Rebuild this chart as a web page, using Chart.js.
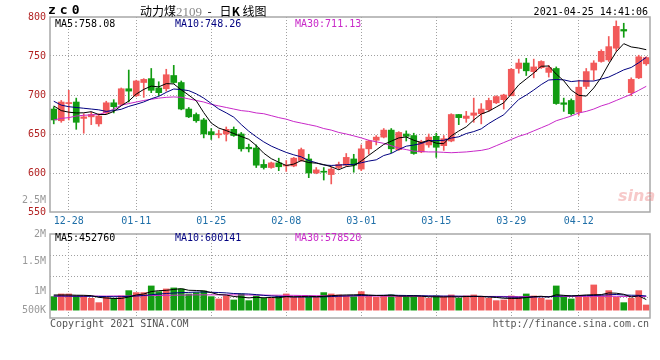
<!DOCTYPE html>
<html>
<head>
<meta charset="utf-8">
<title>动力煤2109 日K线图</title>
<script src="https://cdn.jsdelivr.net/npm/chart.js@4.4.1/dist/chart.umd.min.js"></script>
<style>
  body { margin: 0; background: #fff; }
  #wrap { position: relative; width: 660px; height: 360px; overflow: hidden; font-family: "DejaVu Sans Mono", monospace; font-size: 10px; color: #000; }
  canvas { position: absolute; left: 0; }
  .t { position: absolute; white-space: nowrap; line-height: 12px; }
</style>
</head>
<body>
<div id="wrap">
  <canvas id="price" width="660" height="228" style="top:0"></canvas>
  <canvas id="vol" width="660" height="94" style="top:228px"></canvas>

  <div class="t" style="left:48px;top:4px;font-weight:bold;font-size:13px;letter-spacing:4px">zc0</div>
  <div class="t" style="left:140px;top:5px;font-family:'Noto Sans CJK SC';font-size:12px">动力煤<span style="color:#888;font-family:'Liberation Serif';font-size:13px">2109</span>&nbsp; - &nbsp;&nbsp;日<b>K</b> 线图</div>
  <div class="t" style="right:12px;top:6px">2021-04-25 14:41:06</div>

  <div class="t" id="pma5" style="left:55px;top:18px;color:#000"></div>
  <div class="t" id="pma10" style="left:175px;top:18px;color:#000080"></div>
  <div class="t" id="pma30" style="left:295px;top:18px;color:#c828c8"></div>

  <div class="t" id="vma5" style="left:55px;top:232px;color:#000"></div>
  <div class="t" id="vma10" style="left:175px;top:232px;color:#000080"></div>
  <div class="t" id="vma30" style="left:295px;top:232px;color:#c828c8"></div>

  <div class="t" style="left:618px;top:190px;font-family:'DejaVu Sans';font-style:italic;font-weight:bold;font-size:16px;color:rgba(235,120,120,0.4)">sina</div>

  <div class="t" style="left:50px;top:318px;color:#555">Copyright 2021 SINA.COM</div>
  <div class="t" style="right:11px;top:318px;color:#555">http://finance.sina.com.cn</div>
</div>

<script>
const dates = [
  "12-24", "12-25", "12-28", "12-29", "12-30", "12-31", "01-04", "01-05", "01-06", "01-07",
  "01-08", "01-11", "01-12", "01-13", "01-14", "01-15", "01-18", "01-19", "01-20", "01-21",
  "01-22", "01-25", "01-26", "01-27", "01-28", "01-29", "02-01", "02-02", "02-03", "02-04",
  "02-05", "02-08", "02-09", "02-10", "02-18", "02-19", "02-22", "02-23", "02-24", "02-25",
  "02-26", "03-01", "03-02", "03-03", "03-04", "03-05", "03-08", "03-09", "03-10", "03-11",
  "03-12", "03-15", "03-16", "03-17", "03-18", "03-19", "03-22", "03-23", "03-24", "03-25",
  "03-26", "03-29", "03-30", "03-31", "04-01", "04-02", "04-06", "04-07", "04-08", "04-09",
  "04-12", "04-13", "04-14", "04-15", "04-16", "04-19", "04-20", "04-21", "04-22", "04-23"
];
const shownDates = ["12-28", "01-11", "01-25", "02-08", "03-01", "03-15", "03-29", "04-12"];

const opens = [
  682, 667, 689, 691, 670, 672, 663, 677, 690, 688,
  708, 699, 716, 721, 709, 708, 725, 716, 682, 675,
  668, 653, 649, 650, 656, 650, 633, 632, 611, 607,
  613, 609, 609, 616, 618, 600, 602, 598, 607, 610,
  618, 605, 631, 642, 646, 655, 630, 650, 648, 627,
  636, 647, 635, 641, 675, 670, 674, 676, 681, 690,
  694, 699, 734, 741, 730, 735, 729, 734, 690, 693,
  678, 711, 732, 743, 745, 760, 784, 703, 722, 740
];
const highs = [
  685, 693, 706, 696, 676, 678, 676, 692, 694, 709,
  732, 719, 721, 734, 717, 733, 738, 718, 684, 677,
  670, 657, 655, 659, 659, 652, 637, 636, 617, 614,
  619, 616, 620, 632, 624, 607, 607, 608, 614, 625,
  624, 636, 642, 648, 657, 657, 653, 654, 651, 642,
  650, 651, 648, 676, 675, 679, 696, 689, 696, 699,
  701, 734, 746, 747, 746, 744, 738, 736, 696, 695,
  719, 734, 744, 758, 775, 795, 792, 722, 751, 749
];
const lows = [
  663, 665, 668, 656, 651, 662, 660, 676, 677, 687,
  691, 698, 697, 703, 699, 705, 715, 681, 671, 665,
  645, 643, 645, 641, 647, 628, 627, 607, 605, 606,
  603, 602, 608, 615, 594, 599, 591, 586, 605, 609,
  601, 603, 624, 636, 645, 626, 629, 641, 624, 626,
  633, 620, 629, 640, 662, 665, 665, 663, 679, 689,
  682, 699, 728, 725, 722, 734, 723, 688, 679, 674,
  674, 708, 719, 742, 743, 756, 774, 699, 721, 738
];
const closes = [
  668, 691, 690, 665, 672, 675, 673, 690, 685, 708,
  705, 718, 720, 706, 703, 726, 716, 682, 672, 667,
  650, 649, 650, 656, 648, 631, 631, 610, 607, 613,
  608, 610, 619, 630, 600, 604, 601, 605, 611, 620,
  610, 631, 641, 646, 655, 631, 652, 647, 625, 640,
  646, 633, 644, 675, 671, 673, 677, 682, 693, 698,
  700, 733, 741, 731, 736, 743, 735, 689, 688, 676,
  710, 730, 741, 756, 762, 788, 782, 720, 749, 748
];

const ma5 = [
  686, 680, 678, 677, 677.2, 678.6, 675, 675, 679, 686.2,
  692.2, 701.2, 707.2, 711.4, 710.4, 714.6, 714.2, 706.6, 699.8, 692.6,
  677.4, 664, 657.6, 654.4, 650.6, 646.8, 643.2, 635.2, 625.4, 618.4,
  613.8, 609.6, 611.4, 616, 613.4, 612.6, 610.8, 608, 604.2, 608.2,
  609.4, 615.4, 622.6, 629.6, 636.6, 640.8, 645, 646.2, 642, 639,
  642, 638.2, 637.6, 647.6, 653.8, 659.2, 668, 675.6, 679.2, 684.6,
  690, 701.2, 713, 720.6, 728.2, 736.8, 737.2, 726.8, 718.2, 706.2,
  699.6, 698.6, 709, 722.6, 739.8, 755.4, 765.8, 761.6, 760.2, 758.08
];
const ma10 = [
  692, 687, 685, 684, 683, 682, 681, 679, 680, 681.7,
  685.4, 688.1, 691.1, 695.2, 698.3, 703.4, 707.7, 706.9, 705.6, 701.5,
  696, 689.1, 682.1, 677.1, 671.6, 662.1, 653.6, 646.4, 639.9, 634.5,
  630.3, 626.4, 623.3, 620.7, 615.9, 613.2, 610.2, 609.7, 610.1, 610.8,
  611, 613.1, 615.3, 616.9, 622.4, 625.1, 630.2, 634.4, 635.8, 637.8,
  641.4, 641.6, 641.9, 644.8, 646.4, 650.6, 653.1, 656.6, 663.4, 669.2,
  674.6, 684.6, 694.3, 699.9, 706.4, 713.4, 719.2, 719.9, 719.4, 717.2,
  718.2, 717.9, 717.9, 720.4, 723, 727.5, 732.2, 735.3, 741.4, 748.26
];
const ma30 = [
  668, 670, 671, 673, 674, 674.5, 675, 678, 682, 687,
  689, 691, 693, 694.5, 696, 697, 697.5, 697, 695, 693,
  691, 688, 686, 684, 682, 680, 679, 677, 676, 673.5,
  671, 669, 666, 664, 662, 660, 657, 655, 652, 650,
  647.6, 645, 642, 640, 638, 635, 632, 630, 628, 627.5,
  627, 627, 626.5, 626, 626.5, 627, 628, 629, 631, 635,
  639, 643, 647, 650, 654, 658, 662, 667, 670, 673,
  677, 679, 682, 686, 689, 693, 697, 701, 706, 711.13
];

const volumes = [
  573000, 682000, 682000, 600000, 600000, 505000, 327000, 546000, 505000, 600000,
  818000, 737000, 737000, 1009000, 777000, 887000, 928000, 887000, 682000, 737000,
  805000, 573000, 477000, 600000, 436000, 682000, 409000, 600000, 505000, 505000,
  600000, 682000, 546000, 546000, 546000, 546000, 737000, 682000, 641000, 600000,
  573000, 777000, 600000, 546000, 600000, 641000, 600000, 573000, 600000, 546000,
  505000, 600000, 546000, 641000, 505000, 600000, 641000, 546000, 505000, 409000,
  436000, 600000, 546000, 682000, 600000, 505000, 436000, 1009000, 573000, 477000,
  600000, 546000, 1050000, 600000, 818000, 546000, 327000, 505000, 818000, 232000
];
const volMa5 = [
  640000, 640000, 640000, 630000, 627000, 614000, 543000, 516000, 496000, 496000,
  559000, 641000, 679000, 780000, 816000, 829000, 867000, 898000, 832000, 824000,
  807000, 737000, 655000, 638000, 578000, 554000, 521000, 546000, 526000, 540000,
  524000, 578000, 567000, 576000, 584000, 573000, 584000, 611000, 630000, 641000,
  647000, 655000, 638000, 619000, 619000, 633000, 597000, 592000, 603000, 592000,
  565000, 565000, 559000, 567000, 559000, 578000, 587000, 587000, 559000, 540000,
  507000, 499000, 499000, 535000, 573000, 587000, 554000, 647000, 625000, 600000,
  619000, 641000, 649000, 655000, 723000, 712000, 668000, 559000, 603000, 452760
];
const volMa10 = [
  600000, 600000, 595000, 590000, 590000, 585000, 580000, 575000, 570000, 570000,
  585000, 600000, 620000, 650000, 680000, 700000, 720000, 735000, 745000, 760000,
  760000, 750000, 740000, 725000, 700000, 690000, 680000, 655000, 625000, 600000,
  580000, 570000, 560000, 555000, 560000, 560000, 565000, 575000, 590000, 600000,
  610000, 620000, 620000, 625000, 630000, 635000, 625000, 620000, 615000, 610000,
  605000, 600000, 595000, 595000, 590000, 585000, 580000, 575000, 570000, 565000,
  560000, 550000, 545000, 545000, 555000, 565000, 570000, 590000, 605000, 605000,
  610000, 615000, 620000, 630000, 650000, 660000, 640000, 630000, 625000, 600141
];
const volMa30 = [
  590000, 590000, 590000, 590000, 590000, 595000, 595000, 595000, 600000, 600000,
  600000, 605000, 610000, 615000, 620000, 625000, 630000, 635000, 640000, 645000,
  645000, 645000, 645000, 645000, 645000, 640000, 640000, 635000, 635000, 630000,
  630000, 625000, 625000, 620000, 615000, 610000, 610000, 605000, 600000, 600000,
  600000, 600000, 595000, 595000, 590000, 590000, 585000, 585000, 585000, 585000,
  585000, 585000, 585000, 585000, 585000, 585000, 580000, 580000, 580000, 580000,
  580000, 575000, 575000, 575000, 575000, 575000, 575000, 580000, 580000, 580000,
  580000, 580000, 585000, 585000, 585000, 585000, 580000, 580000, 580000, 578520
];

// tick labels of the two panels (the price panel also carries a stray "2.5M")
const priceTickValues = [550, 565, 600, 650, 700, 750, 800];
const priceTickLabels = ["550", "2.5M", "600", "650", "700", "750", "800"];
const priceGridValues = [600, 650, 700, 750];
const volTickValues = [0, 800000, 2030000, 3130000];
const volTickLabels = ["500K", "1M", "1.5M", "2M"];

const RED = "#f25a5a";
const GREEN = "#129c12";
const GRID = "#a0a0a0";
const MA_COLORS = ["#000000", "#000080", "#c828c8"];

document.getElementById("pma5").textContent = "MA5:" + ma5[ma5.length - 1].toFixed(2);
document.getElementById("pma10").textContent = "MA10:" + ma10[ma10.length - 1].toFixed(2);
document.getElementById("pma30").textContent = "MA30:" + ma30[ma30.length - 1].toFixed(2);
document.getElementById("vma5").textContent = "MA5:" + volMa5[volMa5.length - 1];
document.getElementById("vma10").textContent = "MA10:" + volMa10[volMa10.length - 1];
document.getElementById("vma30").textContent = "MA30:" + volMa30[volMa30.length - 1];

Chart.defaults.font.family = "DejaVu Sans Mono";
Chart.defaults.font.size = 10;

const upDown = (ctx) => (closes[ctx.dataIndex] >= opens[ctx.dataIndex] ? RED : GREEN);
const dateGrid = (ctx) => (shownDates.includes(dates[ctx.index]) ? GRID : "transparent");

// y axes keep a fixed width and don't push the plot area in for their labels
const fixAxis = (s) => {
  s.width = 50;
  s.paddingTop = 0;
  s.paddingBottom = 0;
};

const boxPlugin = {
  id: "box",
  afterDraw(chart) {
    const { ctx, chartArea: a } = chart;
    ctx.save();
    ctx.strokeStyle = "#a8a8a8";
    ctx.lineWidth = 1.5;
    ctx.strokeRect(a.left, a.top, a.right - a.left, a.bottom - a.top);
    ctx.restore();
  },
};

function maLine(data, color) {
  return {
    type: "line",
    data: data,
    borderColor: color,
    borderWidth: 1,
    pointRadius: 0,
    tension: 0,
  };
}

new Chart(document.getElementById("price"), {
  type: "bar",
  data: {
    labels: dates,
    datasets: [
      maLine(ma5, MA_COLORS[0]),
      maLine(ma10, MA_COLORS[1]),
      maLine(ma30, MA_COLORS[2]),
      {
        data: dates.map((d, i) => [opens[i], closes[i]]),
        backgroundColor: upDown,
        barThickness: 6,
        grouped: false,
        minBarLength: 1,
      },
      {
        data: dates.map((d, i) => [lows[i], highs[i]]),
        backgroundColor: upDown,
        barThickness: 1,
        grouped: false,
      },
    ],
  },
  options: {
    responsive: false,
    animation: false,
    devicePixelRatio: 1,
    layout: { padding: { top: 17, right: 10, left: 0, bottom: 0 } },
    plugins: { legend: { display: false }, tooltip: { enabled: false } },
    scales: {
      x: {
        offset: true,
        grid: { offset: false, drawTicks: false, color: dateGrid },
        border: { display: false, dash: [1, 2] },
        ticks: {
          autoSkip: false,
          maxRotation: 0,
          padding: 3,
          color: "#1f6fa8",
          callback: (v, i) => (shownDates.includes(dates[i]) ? dates[i] : ""),
        },
        afterFit: (s) => { s.height = 16; },
      },
      y: {
        min: 550,
        max: 800,
        afterBuildTicks: (s) => { s.ticks = priceTickValues.map((v) => ({ value: v })); },
        afterFit: fixAxis,
        grid: {
          drawTicks: false,
          color: (ctx) => (priceGridValues.includes(ctx.tick.value) ? GRID : "transparent"),
        },
        border: { display: false, dash: [1, 2] },
        ticks: {
          autoSkip: false,
          padding: 4,
          color: (ctx) => (ctx.tick.label === "2.5M" ? "#999" : "#b22222"),
          callback: (v) => priceTickLabels[priceTickValues.indexOf(v)],
        },
      },
    },
  },
  plugins: [boxPlugin],
});

const volMin = -300000;
const volMax = 3130000;
const volGrid = [1, 2, 3].map((k) => volMin + ((volMax - volMin) * k) / 4);

new Chart(document.getElementById("vol"), {
  type: "bar",
  data: {
    labels: dates,
    datasets: [
      maLine(volMa5, MA_COLORS[0]),
      maLine(volMa10, MA_COLORS[1]),
      maLine(volMa30, MA_COLORS[2]),
      {
        data: volumes,
        backgroundColor: upDown,
        barThickness: 6,
      },
    ],
  },
  options: {
    responsive: false,
    animation: false,
    devicePixelRatio: 1,
    layout: { padding: { top: 6, right: 10, left: 0, bottom: 4 } },
    plugins: { legend: { display: false }, tooltip: { enabled: false } },
    scales: {
      x: {
        offset: true,
        grid: { offset: false, drawTicks: false, color: dateGrid },
        border: { display: false, dash: [1, 2] },
        ticks: { display: false },
        afterFit: (s) => { s.height = 0; },
      },
      y: {
        min: volMin,
        max: volMax,
        afterBuildTicks: (s) => {
          s.ticks = volGrid.concat(volTickValues).sort((a, b) => a - b).map((v) => ({ value: v }));
        },
        afterFit: fixAxis,
        grid: {
          drawTicks: false,
          color: (ctx) => (volGrid.includes(ctx.tick.value) ? GRID : "transparent"),
        },
        border: { display: false, dash: [1, 2] },
        ticks: {
          autoSkip: false,
          padding: 4,
          color: "#999",
          callback: (v) => {
            const i = volTickValues.indexOf(v);
            return i >= 0 ? volTickLabels[i] : "";
          },
        },
      },
    },
  },
  plugins: [boxPlugin],
});
</script>
</body>
</html>
